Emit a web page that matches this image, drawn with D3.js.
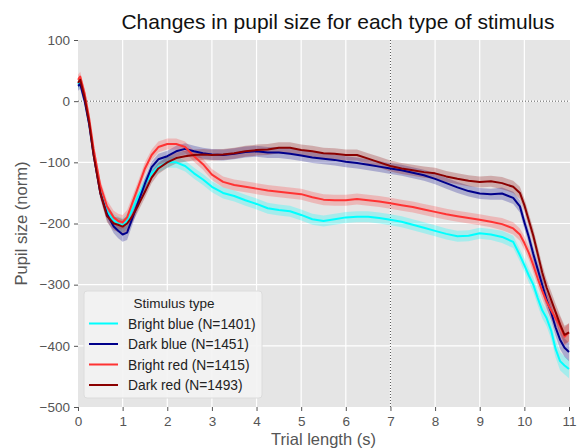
<!DOCTYPE html>
<html>
<head>
<meta charset="utf-8">
<script src="https://cdn.jsdelivr.net/npm/d3@7"></script>
<style>
  body { margin: 0; background: #fff; }
  svg { font-family: "Liberation Sans", Arial, sans-serif; }
</style>
</head>
<body>
<div id="chart"></div>
<script>
// time points (s)
const times = [0, 0.05, 0.15, 0.25, 0.35, 0.5, 0.65, 0.8, 0.9, 1.0, 1.1, 1.2, 1.35, 1.5, 1.65, 1.8, 2.0, 2.2, 2.4, 2.6, 2.8, 3.0,
  3.25, 3.5, 3.75, 4.0, 4.25, 4.5, 4.75, 5.0, 5.25, 5.5, 5.75, 6.0, 6.25, 6.5, 6.75, 7.0, 7.25, 7.5, 7.75, 8.0, 8.25, 8.5,
  8.75, 9.0, 9.25, 9.5, 9.75, 9.9, 10.0, 10.1, 10.2, 10.3, 10.4, 10.5, 10.6, 10.7, 10.8, 10.9, 11.0];

const brightBlue = [28, 32, 5, -35, -85, -145, -180, -195, -200, -203, -195, -180, -155, -135, -118, -108, -100, -100, -106, -118, -128, -140,
  -150, -155, -162, -168, -175, -178, -180, -186, -193, -196, -193, -190, -189, -189, -191, -194, -197, -202, -207, -212, -217, -221,
  -220, -216, -218, -222, -230, -252, -268, -285, -300, -322, -342, -355, -375, -405, -425, -432, -438];
const darkBlue = [25, 28, 0, -38, -88, -150, -185, -205, -212, -218, -215, -195, -165, -135, -108, -95, -90, -82, -78, -82, -85, -87,
  -88, -86, -83, -82, -84, -84, -86, -89, -92, -94, -96, -99, -101, -104, -107, -110, -113, -117, -121, -127, -134, -141,
  -147, -151, -152, -151, -158, -172, -198, -222, -250, -275, -300, -325, -345, -370, -390, -403, -410];
const brightRed = [35, 40, 12, -28, -78, -138, -172, -190, -196, -198, -190, -170, -140, -110, -88, -75, -70, -70, -75, -90, -103, -120,
  -132, -137, -140, -143, -146, -148, -150, -152, -157, -161, -162, -162, -160, -162, -164, -167, -170, -173, -177, -181, -185, -188,
  -191, -194, -197, -201, -208, -218, -232, -248, -268, -290, -310, -328, -342, -355, -368, -385, -378];
const darkRed = [30, 35, 5, -35, -88, -150, -188, -200, -202, -205, -200, -190, -170, -148, -125, -110, -100, -93, -90, -88, -87, -88,
  -87, -85, -82, -80, -79, -76, -76, -80, -82, -85, -86, -88, -88, -94, -100, -106, -110, -113, -116, -118, -123, -127,
  -130, -132, -131, -134, -140, -150, -170, -195, -220, -250, -280, -305, -325, -345, -365, -382, -378];

// standard error half-width of the shaded bands
const sem = [8, 8, 8, 8, 8, 9, 10, 11, 12, 12, 12, 11, 10, 10, 9, 9, 9, 9, 9, 9, 9, 9,
  9, 9, 9, 9, 9, 9, 9, 9, 9, 9, 9, 9, 9, 9, 9, 9, 9, 9, 9, 9, 9, 9,
  9, 9, 9, 10, 10, 10, 11, 11, 12, 12, 13, 13, 14, 14, 15, 15, 15];

const seriesNames = ["Bright blue (N=1401)", "Dark blue (N=1451)", "Bright red (N=1415)", "Dark red  (N=1493)"];
const seriesColors = ["#00ffff", "#00008b", "#ff3333", "#8b0000"];
const seriesValues = [brightBlue, darkBlue, brightRed, darkRed];

const xTicks = d3.range(0, 12);
const yTicks = [100, 0, -100, -200, -300, -400, -500];

const width = 581, height = 448;
const plot = { left: 78, right: 569, top: 40, bottom: 407 };

const svg = d3.select("#chart").append("svg")
  .attr("width", width)
  .attr("height", height);

const x = d3.scaleLinear().domain([0, 11]).range([plot.left, plot.right]);
const y = d3.scaleLinear().domain([-500, 100]).range([plot.bottom, plot.top]);

svg.append("rect")
  .attr("x", plot.left).attr("y", plot.top)
  .attr("width", plot.right - plot.left + 1)
  .attr("height", plot.bottom - plot.top)
  .attr("fill", "#e5e5e5");

// grid
svg.append("g").selectAll("line").data(xTicks.slice(1, -1)).enter().append("line")
  .attr("x1", d => x(d)).attr("x2", d => x(d))
  .attr("y1", plot.top).attr("y2", plot.bottom)
  .attr("stroke", "#fff").attr("stroke-width", 1.2);
svg.append("g").selectAll("line").data(yTicks.slice(1, -1)).enter().append("line")
  .attr("x1", plot.left).attr("x2", plot.right + 1)
  .attr("y1", d => y(d)).attr("y2", d => y(d))
  .attr("stroke", "#fff").attr("stroke-width", 1.2);

// reference lines
svg.append("line")
  .attr("x1", plot.left).attr("x2", plot.right + 1)
  .attr("y1", y(0)).attr("y2", y(0))
  .attr("stroke", "#555").attr("stroke-width", 1).attr("stroke-dasharray", "1,2");
svg.append("line")
  .attr("x1", x(7)).attr("x2", x(7))
  .attr("y1", plot.top).attr("y2", plot.bottom)
  .attr("stroke", "#555").attr("stroke-width", 1).attr("stroke-dasharray", "1,2");

// series
const area = d3.area()
  .x((d, i) => x(times[i]))
  .y0((d, i) => y(d - sem[i]))
  .y1((d, i) => y(d + sem[i]));
const line = d3.line()
  .x((d, i) => x(times[i]))
  .y(d => y(d));

const g = svg.append("g");
seriesValues.forEach((vals, k) => {
  g.append("path")
    .attr("d", area(vals))
    .attr("fill", seriesColors[k])
    .attr("fill-opacity", k === 0 ? 0.28 : 0.25);
});
seriesValues.forEach((vals, k) => {
  g.append("path")
    .attr("d", line(vals))
    .attr("fill", "none")
    .attr("stroke", seriesColors[k])
    .attr("stroke-width", 2)
    .attr("stroke-linejoin", "round");
});

// axes
const fmt = d => d < 0 ? "\u2212" + Math.abs(d) : String(d);
const xAxis = svg.append("g")
  .attr("transform", `translate(0,${plot.bottom})`)
  .call(d3.axisBottom(x).tickValues(xTicks).tickSize(4).tickPadding(5).tickFormat(fmt));
const yAxis = svg.append("g")
  .attr("transform", `translate(${plot.left},0)`)
  .call(d3.axisLeft(y).tickValues(yTicks).tickSize(4).tickPadding(4).tickFormat(fmt));
[xAxis, yAxis].forEach(a => {
  a.select(".domain").remove();
  a.selectAll(".tick line").attr("stroke", "#555");
  a.selectAll(".tick text")
    .attr("fill", "#555")
    .style("font-size", "13.5px")
    .style("font-family", "Liberation Sans, Arial, sans-serif");
});

// labels
svg.append("text")
  .attr("x", 338).attr("y", 29)
  .attr("text-anchor", "middle")
  .style("font-size", "21px")
  .attr("fill", "#111")
  .text("Changes in pupil size for each type of stimulus");
svg.append("text")
  .attr("x", (plot.left + plot.right) / 2).attr("y", 445)
  .attr("text-anchor", "middle")
  .style("font-size", "16.5px")
  .attr("fill", "#555")
  .text("Trial length (s)");
svg.append("text")
  .attr("transform", `translate(27,${(plot.top + plot.bottom) / 2}) rotate(-90)`)
  .attr("text-anchor", "middle")
  .style("font-size", "16.5px")
  .attr("fill", "#555")
  .text("Pupil size (norm)");

// legend
const lg = svg.append("g").attr("transform", "translate(84,291)");
lg.append("rect")
  .attr("width", 178).attr("height", 107)
  .attr("rx", 3)
  .attr("fill", "#f3f3f3").attr("fill-opacity", 0.92)
  .attr("stroke", "#dcdcdc");
lg.append("text")
  .attr("x", 90).attr("y", 17)
  .attr("text-anchor", "middle")
  .style("font-size", "13.5px")
  .attr("fill", "#222")
  .text("Stimulus type");
seriesNames.forEach((name, k) => {
  const yy = 32.5 + k * 20.5;
  lg.append("line")
    .attr("x1", 5).attr("x2", 34)
    .attr("y1", yy).attr("y2", yy)
    .attr("stroke", seriesColors[k]).attr("stroke-width", 2);
  lg.append("text")
    .attr("x", 44).attr("y", yy + 5)
    .style("font-size", "13.8px")
    .attr("fill", "#222")
    .text(name);
});
</script>
</body>
</html>
